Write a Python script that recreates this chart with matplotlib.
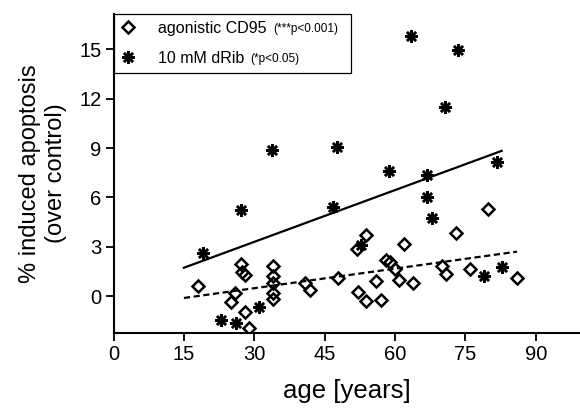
import matplotlib
matplotlib.use('Agg')
import matplotlib.pyplot as plt
from matplotlib.lines import Line2D
from matplotlib.transforms import IdentityTransform

plt.rcParams['font.family'] = ['Liberation Sans', 'DejaVu Sans']

# agonistic CD95 (open diamonds)
cd95_age = [18.0, 25.0, 25.9, 27.1, 27.3, 28.0, 28.1, 28.9, 34.0, 34.0, 34.0, 34.0, 34.0,
            40.8, 41.8, 47.9, 51.9, 52.0, 53.9, 53.9, 55.9, 56.9, 58.0, 58.9, 60.0, 60.9,
            61.9, 63.9, 69.9, 70.8, 72.9, 75.9, 79.8, 85.9]
cd95_apo = [0.61, -0.38, 0.16, 1.93, 1.44, -0.95, 1.26, -1.97, 1.80, 1.20, 0.77, 0.21, -0.20,
            0.77, 0.37, 1.08, 2.86, 0.24, 3.71, -0.29, 0.91, -0.24, 2.19, 2.09, 1.62, 0.97,
            3.15, 0.81, 1.83, 1.36, 3.85, 1.62, 5.28, 1.11]

# 10 mM dRib (asterisks)
drib_age = [19.0, 22.9, 26.0, 27.2, 30.9, 33.8, 46.8, 47.7, 52.7, 58.7, 63.4, 66.8, 66.8,
            67.8, 70.6, 73.4, 78.9, 81.8, 82.8]
drib_apo = [2.60, -1.44, -1.66, 5.23, -0.69, 8.88, 5.44, 9.09, 3.10, 7.59, 15.84, 7.35, 6.05,
            4.77, 11.50, 14.97, 1.24, 8.14, 1.78]

# regression lines, end points
cd95_fit_age = [15, 86]
cd95_fit_apo = [-0.12, 2.70]
drib_fit_age = [15, 82.7]
drib_fit_apo = [1.72, 8.83]

labels = ['agonistic CD95', '10 mM dRib']
notes = ['(***p<0.001)', '(*p<0.05)']
xticks = [0, 15, 30, 45, 60, 75, 90]
yticks = [0, 3, 6, 9, 12, 15]

star = (8, 2, 0)

fig = plt.figure(figsize=(5.8, 4.11), dpi=100)
ax = fig.add_axes([0.1957, 0.1898, 0.8043, 0.7762])

ax.plot(drib_fit_age, drib_fit_apo, color='black', lw=1.6)
ax.plot(cd95_fit_age, cd95_fit_apo, color='black', lw=1.6, linestyle=(0, (2.8, 1.6)))

ax.plot(cd95_age, cd95_apo, linestyle='none', marker='D', ms=6, mfc='none',
        mec='black', mew=1.8)
ax.plot(drib_age, drib_apo, linestyle='none', marker=star, ms=9, color='black', mew=1.8)

ax.set_xlim(0, 99.4)
ax.set_ylim(-2.25, 17.16)
ax.set_xticks(xticks)
ax.set_yticks(yticks)
ax.tick_params(direction='out', length=5.5, width=1.3, labelsize=14.5, pad=3)
for s in ['top', 'right']:
    ax.spines[s].set_visible(False)
for s in ['left', 'bottom']:
    ax.spines[s].set_linewidth(1.5)

ax.set_xlabel('age [years]', fontsize=18.5, labelpad=11)
ax.set_ylabel('% induced apoptosis\n(over control)', fontsize=17, multialignment='center')
ax.yaxis.set_label_coords(-0.10, 0.5)

handles = [Line2D([], [], linestyle='none', marker='D', ms=6, mfc='none', mec='black', mew=1.8),
           Line2D([], [], linestyle='none', marker=star, ms=9, color='black', mew=1.8)]
leg = ax.legend(handles, labels, loc='upper left', bbox_to_anchor=(0, 0.816, 0.509, 0.184),
                mode='expand', borderaxespad=0, fontsize=11.5, handlelength=1.0,
                handletextpad=1.39, borderpad=0.42, labelspacing=0.95, numpoints=1,
                fancybox=False, framealpha=1)
leg.get_frame().set_edgecolor('black')
leg.get_frame().set_linewidth(0.9)

fig.canvas.draw()
renderer = fig.canvas.get_renderer()
for t, note in zip(leg.get_texts(), notes):
    bb = t.get_window_extent(renderer)
    fig.text(bb.x1 + 6, bb.y0 + 1, note, fontsize=8.5, va='bottom', ha='left',
             transform=IdentityTransform())

fig.savefig('out.png', dpi=100)
